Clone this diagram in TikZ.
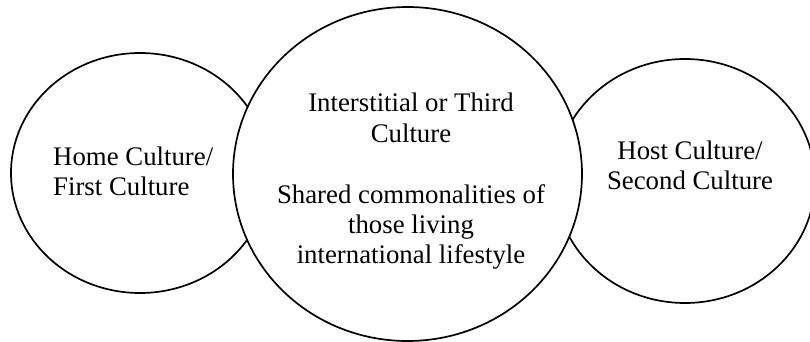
\documentclass[tikz,border=0pt]{standalone}
\usepackage{fontspec}
\setmainfont{Liberation Serif}
\usetikzlibrary{shapes.geometric}

\begin{document}
\begin{tikzpicture}[x=1pt,y=-1pt,line cap=round,line join=round,
  culture/.style={ellipse,draw,line width=1.7pt,fill=white,inner sep=0pt},
  every node/.style={inner sep=0pt,font=\fontsize{26.8}{30}\selectfont}]
  \useasboundingbox (0,0) rectangle (810,342);
  \def\gap{121}
  % the two outer cultures first, the middle one sits on top of them
  \node[culture,minimum width=258pt,minimum height=240pt] (home) at (140,173) {};
  \node[culture,minimum width=260pt,minimum height=244pt] (host) at (685,181) {};
  \node[culture,minimum width=349pt,minimum height=334pt] (third) at (407.5,174) {};
  % base of a multi-line node is the baseline of its last line
  \node[anchor=base west,align=left] (hometxt) at (53,195) {Home Culture/\\First Culture};
  \node[anchor=base,align=center] (hosttxt) at (690,189) {Host Culture/\\Second Culture};
  \node[anchor=base,align=center] (thirdtxt) at (411,142) {Interstitial or Third\\Culture};
  \node[anchor=base,align=center] (sharedtxt) at (411,142+\gap) {Shared commonalities of\\those living\\international lifestyle};
\end{tikzpicture}
\end{document}
